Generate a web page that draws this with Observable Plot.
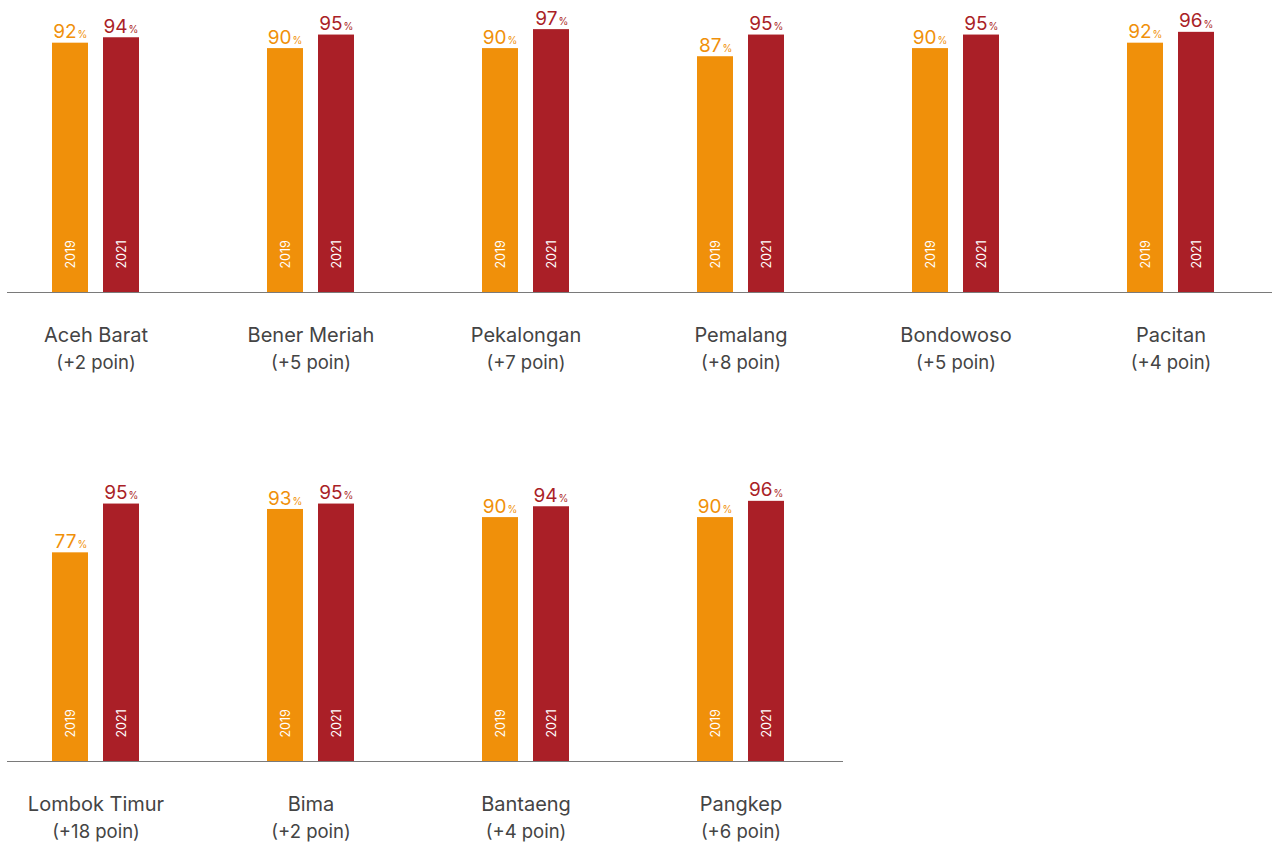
<!DOCTYPE html>
<html>
<head>
<meta charset="utf-8">
<script src="https://cdn.jsdelivr.net/npm/d3@7"></script>
<script src="https://cdn.jsdelivr.net/npm/@observablehq/plot@0.6"></script>
<style>
  html, body { margin: 0; padding: 0; background: #fff; }
  #chart svg { display: block; }
</style>
</head>
<body>
<div id="chart"></div>
<script>
// Data
const regionsRow1 = ["Aceh Barat", "Bener Meriah", "Pekalongan", "Pemalang", "Bondowoso", "Pacitan"];
const values2019Row1 = [92, 90, 90, 87, 90, 92];
const values2021Row1 = [94, 95, 97, 95, 95, 96];
const changeRow1 = [2, 5, 7, 8, 5, 4];

const regionsRow2 = ["Lombok Timur", "Bima", "Bantaeng", "Pangkep"];
const values2019Row2 = [77, 93, 90, 90];
const values2021Row2 = [95, 95, 94, 96];
const changeRow2 = [18, 2, 4, 6];

const years = ["2019", "2021"];

const ORANGE = "#F0900A";
const RED = "#AA1F27";
const FONT = "Inter, 'Noto Sans', sans-serif";

const STEP = 215.6, PI = 0.5965, PO = 0.2017;

function rowChart(regions, v19, v21, change, marginTop, marginBottom, marginRight, height) {
  const d19 = regions.map((r, i) => ({region: r, year: years[0], value: v19[i]}));
  const d21 = regions.map((r, i) => ({region: r, year: years[1], value: v21[i]}));
  const labels = regions.map((r, i) => ({region: r, line2: `(+${change[i]} poin)`}));
  const off = 25.5;
  const left = 7;
  return Plot.plot({
    width: 1276,
    height,
    marginTop,
    marginBottom,
    marginLeft: left,
    marginRight,
    style: {fontFamily: FONT, background: "#fff"},
    x: {domain: regions, paddingInner: PI, paddingOuter: PO, align: 0.5,
        range: [left, left + STEP * (regions.length - PI + 2 * PO)], axis: null},
    y: {domain: [0, 100], axis: null},
    marks: [
      Plot.barY(d19, {x: "region", y: "value", fill: ORANGE, insetRight: 51}),
      Plot.barY(d21, {x: "region", y: "value", fill: RED, insetLeft: 51}),
      Plot.ruleY([0], {stroke: "#7a7a7a", strokeWidth: 1}),
      // year labels inside bars
      Plot.text(d19, {x: "region", y: 0, text: "year", rotate: -90, textAnchor: "start", dx: -off, dy: -24, fill: "#fff", fontSize: 12.5}),
      Plot.text(d21, {x: "region", y: 0, text: "year", rotate: -90, textAnchor: "start", dx: off, dy: -24, fill: "#fff", fontSize: 12.5}),
      // value labels
      Plot.text(d19, {x: "region", y: "value", text: d => String(d.value), textAnchor: "end", dx: -off + 6, dy: -11, fill: ORANGE, fontSize: 19}),
      Plot.text(d19, {x: "region", y: "value", text: () => "%", textAnchor: "start", dx: -off + 7, dy: -8, fill: ORANGE, fontSize: 10}),
      Plot.text(d21, {x: "region", y: "value", text: d => String(d.value), textAnchor: "end", dx: off + 6, dy: -11, fill: RED, fontSize: 19}),
      Plot.text(d21, {x: "region", y: "value", text: () => "%", textAnchor: "start", dx: off + 7, dy: -8, fill: RED, fontSize: 10}),
      // category labels
      Plot.text(labels, {x: "region", y: 0, text: "region", dy: 43, fill: "#444", fontSize: 20}),
      Plot.text(labels, {x: "region", y: 0, text: "line2", dy: 71, fill: "#444", fontSize: 18.5})
    ]
  });
}

const chart = document.getElementById("chart");
chart.appendChild(rowChart(regionsRow1, values2019Row1, values2021Row1, changeRow1, 21, 177, 4, 469));
chart.appendChild(rowChart(regionsRow2, values2019Row2, values2021Row2, changeRow2, 21, 84, 433, 376));
</script>
</body>
</html>
